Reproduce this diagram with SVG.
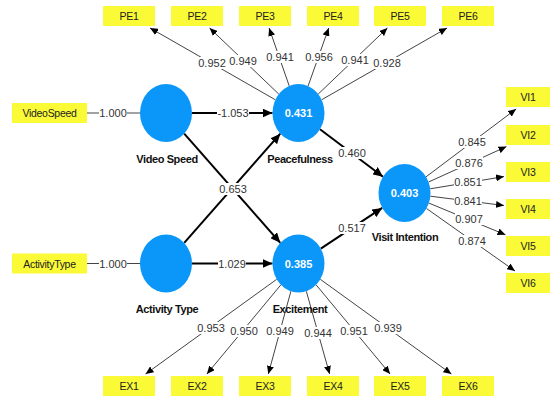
<svg xmlns="http://www.w3.org/2000/svg" width="550" height="396" viewBox="0 0 550 396">
  <style>
    .ind rect { fill: #FAFA37; }
    .ind text { font-family: "Liberation Sans", Arial, sans-serif; font-size: 10.5px; fill: #222; text-anchor: middle; letter-spacing: -0.3px; }
    .lv ellipse { fill: #0A97F9; }
    .lv .r2 { font-family: "Liberation Sans", Arial, sans-serif; font-size: 11px; font-weight: bold; fill: #fff; text-anchor: middle; }
    .lv .name { font-family: "Liberation Sans", Arial, sans-serif; font-size: 11px; font-weight: bold; fill: #111; text-anchor: middle; letter-spacing: -0.4px; }
    .meas { stroke: #444; stroke-width: 1; fill: none; }
    .path { stroke: #000; stroke-width: 2; fill: none; }
    .lbl rect { fill: #fff; }
    .lbl text { font-family: "Liberation Sans", Arial, sans-serif; font-size: 11px; fill: #333; text-anchor: middle; }
  </style>
  <defs>
    <marker id="arrowThin" markerUnits="userSpaceOnUse" markerWidth="8" markerHeight="7" refX="8" refY="3.5" orient="auto">
      <path d="M0,0 L8,3.5 L0,7 z" fill="#000"/>
    </marker>
    <marker id="arrowBold" markerUnits="userSpaceOnUse" markerWidth="10" markerHeight="9" refX="10" refY="4.5" orient="auto">
      <path d="M0,0 L10,4.5 L0,9 z" fill="#000"/>
    </marker>
  </defs>

  <rect width="550" height="396" fill="#fff"/>

  <!-- connectors -->
  <g id="connectors">
    <!-- single-indicator links -->
    <line class="meas" x1="87" y1="113" x2="140" y2="113"/>
    <line class="meas" x1="87" y1="263.5" x2="140" y2="263.5"/>

    <!-- Peacefulness outer loadings -->
    <line class="meas" x1="275.4" y1="99.8" x2="150" y2="28" marker-end="url(#arrowThin)"/>
    <line class="meas" x1="278.8" y1="94.1" x2="209.6" y2="28" marker-end="url(#arrowThin)"/>
    <line class="meas" x1="289.2" y1="85.9" x2="269.1" y2="28" marker-end="url(#arrowThin)"/>
    <line class="meas" x1="308.1" y1="86" x2="328.7" y2="28" marker-end="url(#arrowThin)"/>
    <line class="meas" x1="318.2" y1="94.1" x2="387.4" y2="28" marker-end="url(#arrowThin)"/>
    <line class="meas" x1="321.6" y1="99.8" x2="447" y2="28" marker-end="url(#arrowThin)"/>

    <!-- Excitement outer loadings -->
    <line class="meas" x1="276.7" y1="279.3" x2="145.6" y2="374" marker-end="url(#arrowThin)"/>
    <line class="meas" x1="280.9" y1="284.8" x2="206.9" y2="374" marker-end="url(#arrowThin)"/>
    <line class="meas" x1="290.9" y1="291.2" x2="268.3" y2="374" marker-end="url(#arrowThin)"/>
    <line class="meas" x1="306.3" y1="291.2" x2="329.6" y2="374" marker-end="url(#arrowThin)"/>
    <line class="meas" x1="316.1" y1="284.8" x2="390.1" y2="374" marker-end="url(#arrowThin)"/>
    <line class="meas" x1="320.3" y1="279.3" x2="451.4" y2="374" marker-end="url(#arrowThin)"/>

    <!-- Visit Intention outer loadings -->
    <line class="meas" x1="426.1" y1="176.8" x2="516.1" y2="109" marker-end="url(#arrowThin)"/>
    <line class="meas" x1="428.6" y1="182" x2="506.5" y2="146.6" marker-end="url(#arrowThin)"/>
    <line class="meas" x1="430.2" y1="188.8" x2="504" y2="176.6" marker-end="url(#arrowThin)"/>
    <line class="meas" x1="430.3" y1="196.2" x2="504" y2="205.5" marker-end="url(#arrowThin)"/>
    <line class="meas" x1="428.9" y1="203.1" x2="505.5" y2="234.8" marker-end="url(#arrowThin)"/>
    <line class="meas" x1="426.5" y1="208.5" x2="515" y2="271" marker-end="url(#arrowThin)"/>

    <!-- structural paths -->
    <line class="path" x1="192" y1="113" x2="272.5" y2="113" marker-end="url(#arrowBold)"/>
    <line class="path" x1="192" y1="263.5" x2="272.5" y2="263.5" marker-end="url(#arrowBold)"/>
    <line class="path" x1="184.2" y1="133.7" x2="280.3" y2="242.8" marker-end="url(#arrowBold)"/>
    <line class="path" x1="184.2" y1="242.8" x2="280.3" y2="133.7" marker-end="url(#arrowBold)"/>
    <line class="path" x1="320" y1="129.3" x2="383" y2="176.7" marker-end="url(#arrowBold)"/>
    <line class="path" x1="320.8" y1="248.6" x2="382.2" y2="207.9" marker-end="url(#arrowBold)"/>

    <!-- coefficient labels: white plate behind each value -->
    <g class="lbl">
      <rect x="99" y="107" width="28" height="12"/><text x="113" y="117">1.000</text>
      <rect x="99" y="257.5" width="28" height="12"/><text x="113" y="267.5">1.000</text>
      <rect x="217" y="107" width="32" height="12"/><text x="233" y="117">-1.053</text>
      <rect x="218" y="257.5" width="28" height="12"/><text x="232" y="267.5">1.029</text>
      <rect x="219" y="183" width="28" height="12"/><text x="233" y="193">0.653</text>
      <rect x="338" y="147" width="28" height="12"/><text x="352" y="157">0.460</text>
      <rect x="338" y="222" width="28" height="12"/><text x="352" y="232">0.517</text>

      <rect x="198" y="57" width="28" height="12"/><text x="212" y="67">0.952</text>
      <rect x="229" y="55" width="28" height="12"/><text x="243" y="65">0.949</text>
      <rect x="266" y="51" width="28" height="12"/><text x="280" y="61">0.941</text>
      <rect x="305" y="51" width="28" height="12"/><text x="319" y="61">0.956</text>
      <rect x="341" y="54" width="28" height="12"/><text x="355" y="64">0.941</text>
      <rect x="373" y="57" width="28" height="12"/><text x="387" y="67">0.928</text>

      <rect x="197" y="322" width="28" height="12"/><text x="211" y="332">0.953</text>
      <rect x="230" y="325" width="28" height="12"/><text x="244" y="335">0.950</text>
      <rect x="266" y="325" width="28" height="12"/><text x="280" y="335">0.949</text>
      <rect x="304" y="327" width="28" height="12"/><text x="318" y="337">0.944</text>
      <rect x="340" y="325" width="28" height="12"/><text x="354" y="335">0.951</text>
      <rect x="374" y="322" width="28" height="12"/><text x="388" y="332">0.939</text>

      <rect x="458" y="136" width="28" height="12"/><text x="472" y="146">0.845</text>
      <rect x="455" y="157" width="28" height="12"/><text x="469" y="167">0.876</text>
      <rect x="454" y="176" width="28" height="12"/><text x="468" y="186">0.851</text>
      <rect x="454" y="195" width="28" height="12"/><text x="468" y="205">0.841</text>
      <rect x="455" y="213" width="28" height="12"/><text x="469" y="223">0.907</text>
      <rect x="458" y="235" width="28" height="12"/><text x="472" y="245">0.874</text>
    </g>
  </g>

  <!-- indicators -->
  <g id="VideoSpeed" class="ind"><rect x="12" y="103" width="75" height="20"/><text x="49.5" y="117">VideoSpeed</text></g>
  <g id="ActivityType" class="ind"><rect x="12" y="253.5" width="75" height="20"/><text x="49.5" y="267.5">ActivityType</text></g>

  <g id="PE1" class="ind"><rect x="103" y="6" width="52" height="20"/><text x="129" y="20">PE1</text></g>
  <g id="PE2" class="ind"><rect x="171" y="6" width="52" height="20"/><text x="197" y="20">PE2</text></g>
  <g id="PE3" class="ind"><rect x="239" y="6" width="52" height="20"/><text x="265" y="20">PE3</text></g>
  <g id="PE4" class="ind"><rect x="307" y="6" width="52" height="20"/><text x="333" y="20">PE4</text></g>
  <g id="PE5" class="ind"><rect x="374" y="6" width="52" height="20"/><text x="400" y="20">PE5</text></g>
  <g id="PE6" class="ind"><rect x="442" y="6" width="52" height="20"/><text x="468" y="20">PE6</text></g>

  <g id="EX1" class="ind"><rect x="103" y="376" width="52" height="20"/><text x="129" y="390">EX1</text></g>
  <g id="EX2" class="ind"><rect x="171" y="376" width="52" height="20"/><text x="197" y="390">EX2</text></g>
  <g id="EX3" class="ind"><rect x="239" y="376" width="52" height="20"/><text x="265" y="390">EX3</text></g>
  <g id="EX4" class="ind"><rect x="307" y="376" width="52" height="20"/><text x="333" y="390">EX4</text></g>
  <g id="EX5" class="ind"><rect x="374" y="376" width="52" height="20"/><text x="400" y="390">EX5</text></g>
  <g id="EX6" class="ind"><rect x="442" y="376" width="52" height="20"/><text x="468" y="390">EX6</text></g>

  <g id="VI1" class="ind"><rect x="506" y="87" width="52" height="20"/><text x="528" y="101">VI1</text></g>
  <g id="VI2" class="ind"><rect x="506" y="125" width="52" height="20"/><text x="528" y="139">VI2</text></g>
  <g id="VI3" class="ind"><rect x="506" y="162" width="52" height="20"/><text x="528" y="176">VI3</text></g>
  <g id="VI4" class="ind"><rect x="506" y="199" width="52" height="20"/><text x="528" y="213">VI4</text></g>
  <g id="VI5" class="ind"><rect x="506" y="236" width="52" height="20"/><text x="528" y="250">VI5</text></g>
  <g id="VI6" class="ind"><rect x="506" y="273" width="52" height="20"/><text x="528" y="287">VI6</text></g>

  <!-- latent variables -->
  <g id="VideoSpeedLV" class="lv"><ellipse cx="166" cy="113" rx="26" ry="29"/><text class="name" x="167" y="163">Video Speed</text></g>
  <g id="ActivityTypeLV" class="lv"><ellipse cx="166" cy="263.5" rx="26" ry="29"/><text class="name" x="167" y="313">Activity Type</text></g>
  <g id="Peacefulness" class="lv"><ellipse cx="298.5" cy="113" rx="26" ry="29"/><text class="r2" x="298.5" y="117">0.431</text><text class="name" x="300" y="163">Peacefulness</text></g>
  <g id="Excitement" class="lv"><ellipse cx="298.5" cy="263.5" rx="26" ry="29"/><text class="r2" x="298.5" y="267.5">0.385</text><text class="name" x="300" y="313">Excitement</text></g>
  <g id="VisitIntention" class="lv"><ellipse cx="404.5" cy="193" rx="26" ry="29"/><text class="r2" x="404.5" y="197">0.403</text><text class="name" x="405" y="241">Visit Intention</text></g>
</svg>
